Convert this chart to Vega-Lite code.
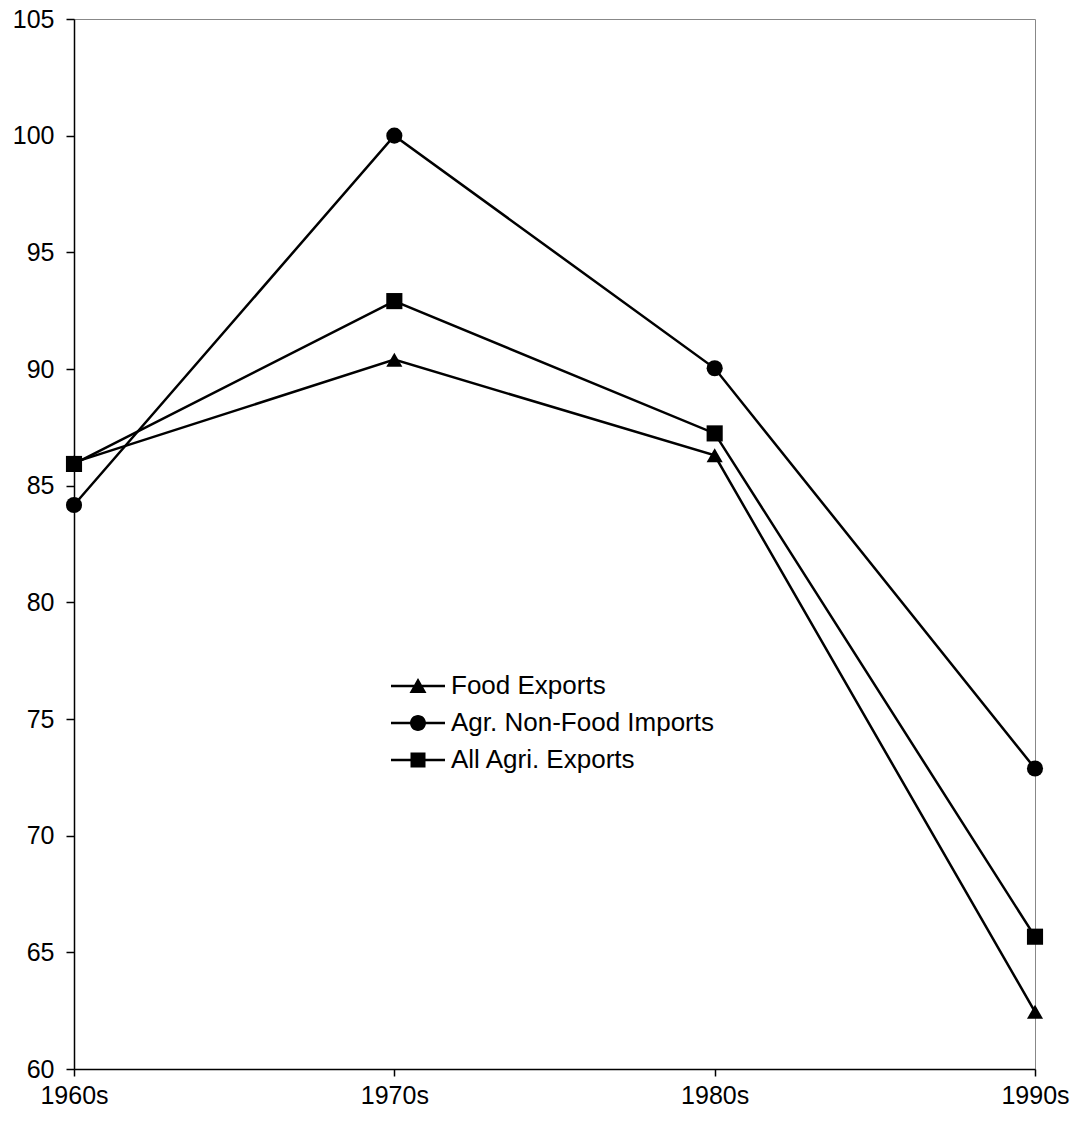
{
  "$schema": "https://vega.github.io/schema/vega-lite/v6.json",
  "width": 961,
  "height": 1050,
  "autosize": "none",
  "padding": {"left": 74, "top": 19, "right": 42, "bottom": 53},
  "background": "white",
  "config": {
    "view": {"stroke": "#888888", "strokeWidth": 1},
    "font": "Liberation Sans",
    "axis": {
      "domainColor": "black",
      "domainWidth": 1.5,
      "tickColor": "black",
      "tickWidth": 1.5,
      "labelColor": "black",
      "labelFont": "Liberation Sans",
      "labelFontSize": 25,
      "grid": false,
      "title": null
    }
  },
  "data": {
    "values": [
      {"decade": "1960s", "series": "Food Exports", "value": 86.0},
      {"decade": "1970s", "series": "Food Exports", "value": 90.4},
      {"decade": "1980s", "series": "Food Exports", "value": 86.3},
      {"decade": "1990s", "series": "Food Exports", "value": 62.45},
      {"decade": "1960s", "series": "Agr. Non-Food Imports", "value": 84.17},
      {"decade": "1970s", "series": "Agr. Non-Food Imports", "value": 100.0},
      {"decade": "1980s", "series": "Agr. Non-Food Imports", "value": 90.03},
      {"decade": "1990s", "series": "Agr. Non-Food Imports", "value": 72.88},
      {"decade": "1960s", "series": "All Agri. Exports", "value": 85.93},
      {"decade": "1970s", "series": "All Agri. Exports", "value": 92.91},
      {"decade": "1980s", "series": "All Agri. Exports", "value": 87.24},
      {"decade": "1990s", "series": "All Agri. Exports", "value": 65.67}
    ]
  },
  "encoding": {
    "x": {
      "field": "decade",
      "type": "ordinal",
      "scale": {"type": "point", "padding": 0, "domain": ["1960s", "1970s", "1980s", "1990s"]},
      "axis": {"labelAngle": 0, "tickSize": 7, "labelPadding": 7}
    },
    "y": {
      "field": "value",
      "type": "quantitative",
      "scale": {"domain": [60, 105], "nice": false, "zero": false},
      "axis": {"values": [60, 65, 70, 75, 80, 85, 90, 95, 100, 105], "tickSize": 8, "labelPadding": 12}
    }
  },
  "layer": [
    {
      "mark": {"type": "line", "color": "black", "strokeWidth": 2.5},
      "encoding": {"detail": {"field": "series", "type": "nominal"}}
    },
    {
      "mark": {"type": "point", "filled": true, "color": "black", "opacity": 1, "size": 260},
      "encoding": {
        "shape": {
          "field": "series",
          "type": "nominal",
          "scale": {
            "domain": ["Food Exports", "Agr. Non-Food Imports", "All Agri. Exports"],
            "range": ["triangle-up", "circle", "square"]
          },
          "legend": null
        }
      }
    },
    {
      "transform": [{"filter": "datum.value > 1000"}],
      "mark": {"type": "point", "filled": true, "color": "black", "opacity": 1},
      "encoding": {
        "shape": {
          "field": "series",
          "type": "nominal",
          "scale": {
            "domain": ["Food Exports", "Agr. Non-Food Imports", "All Agri. Exports"],
            "range": [
              "M-2.7,-0.12H2.7V0.12H-2.7ZM0,-0.8L0.85,0.7H-0.85Z",
              "M-2.7,-0.12H2.7V0.12H-2.7ZM0.8,0A0.8,0.8 0 1,1 -0.8,0A0.8,0.8 0 1,1 0.8,0Z",
              "M-2.7,-0.12H2.7V0.12H-2.7ZM-0.75,-0.75H0.75V0.75H-0.75Z"
            ]
          },
          "legend": {
            "title": null,
            "orient": "none",
            "legendX": 331,
            "legendY": 654,
            "padding": 0,
            "symbolSize": 400,
            "labelFontSize": 26,
            "labelColor": "black",
            "labelFont": "Liberation Sans",
            "labelOffset": 20,
            "labelLimit": 0,
            "rowPadding": 11,
            "symbolFillColor": "black",
            "symbolOpacity": 1
          }
        }
      }
    }
  ],
  "resolve": {"scale": {"shape": "independent"}}
}
